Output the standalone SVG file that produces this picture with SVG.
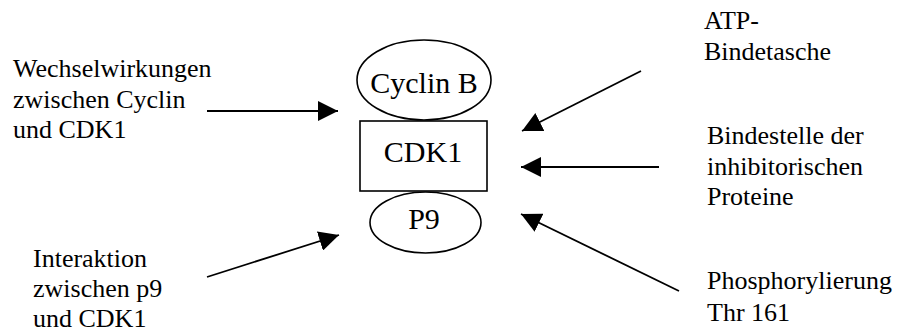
<svg xmlns="http://www.w3.org/2000/svg" width="897" height="335" viewBox="0 0 897 335">
<style>
.shape{fill:#fff;stroke:#000;stroke-width:1.6}
text{font-family:'Liberation Serif','Times New Roman','DejaVu Serif',serif;fill:#000}
.node{font-size:30px;text-anchor:middle}
.lbl{font-size:26px}
.conn{stroke:#000;stroke-width:1.8;fill:none;marker-end:url(#ah)}
</style>
<defs>
<marker id="ah" markerUnits="userSpaceOnUse" markerWidth="20" markerHeight="20" refX="20" refY="10" orient="auto">
<path d="M0,0 L20,10 L0,20 z" fill="#000"/>
</marker>
</defs>
<rect width="897" height="335" fill="#fff"/>
<g id="cyclinB">
<ellipse class="shape" cx="424" cy="80" rx="67" ry="40"/>
<text class="node" x="424" y="93" font-family="Liberation Serif, serif">Cyclin B</text>
</g>
<g id="cdk1">
<rect class="shape" x="360" y="121" width="127" height="70"/>
<text class="node" x="423" y="162" font-family="Liberation Serif, serif">CDK1</text>
</g>
<g id="p9">
<ellipse class="shape" cx="425.5" cy="222.5" rx="55.5" ry="30.5"/>
<text class="node" x="424" y="229" font-family="Liberation Serif, serif">P9</text>
</g>
<g id="label-wechsel" font-family="Liberation Serif, serif">
<text class="lbl" x="13" y="77">Wechselwirkungen</text>
<text class="lbl" x="13" y="108">zwischen Cyclin</text>
<text class="lbl" x="13" y="138">und CDK1</text>
</g>
<g id="label-interaktion">
<text class="lbl" x="33" y="267">Interaktion</text>
<text class="lbl" x="33" y="297">zwischen p9</text>
<text class="lbl" x="33" y="327">und CDK1</text>
</g>
<g id="label-atp">
<text class="lbl" x="704" y="29">ATP-</text>
<text class="lbl" x="704" y="60">Bindetasche</text>
</g>
<g id="label-bindestelle">
<text class="lbl" x="707" y="144">Bindestelle der</text>
<text class="lbl" x="707" y="175">inhibitorischen</text>
<text class="lbl" x="707" y="205">Proteine</text>
</g>
<g id="label-phospho">
<text class="lbl" x="707" y="289">Phosphorylierung</text>
<text class="lbl" x="707" y="321">Thr 161</text>
</g>
<g id="connectors">
<line class="conn" x1="207" y1="111" x2="338" y2="111"/>
<line class="conn" x1="207" y1="277" x2="339" y2="235"/>
<line class="conn" x1="641" y1="71" x2="522" y2="131"/>
<line class="conn" x1="659" y1="167" x2="521" y2="167"/>
<line class="conn" x1="679" y1="291" x2="521" y2="214"/>
</g>
</svg>
